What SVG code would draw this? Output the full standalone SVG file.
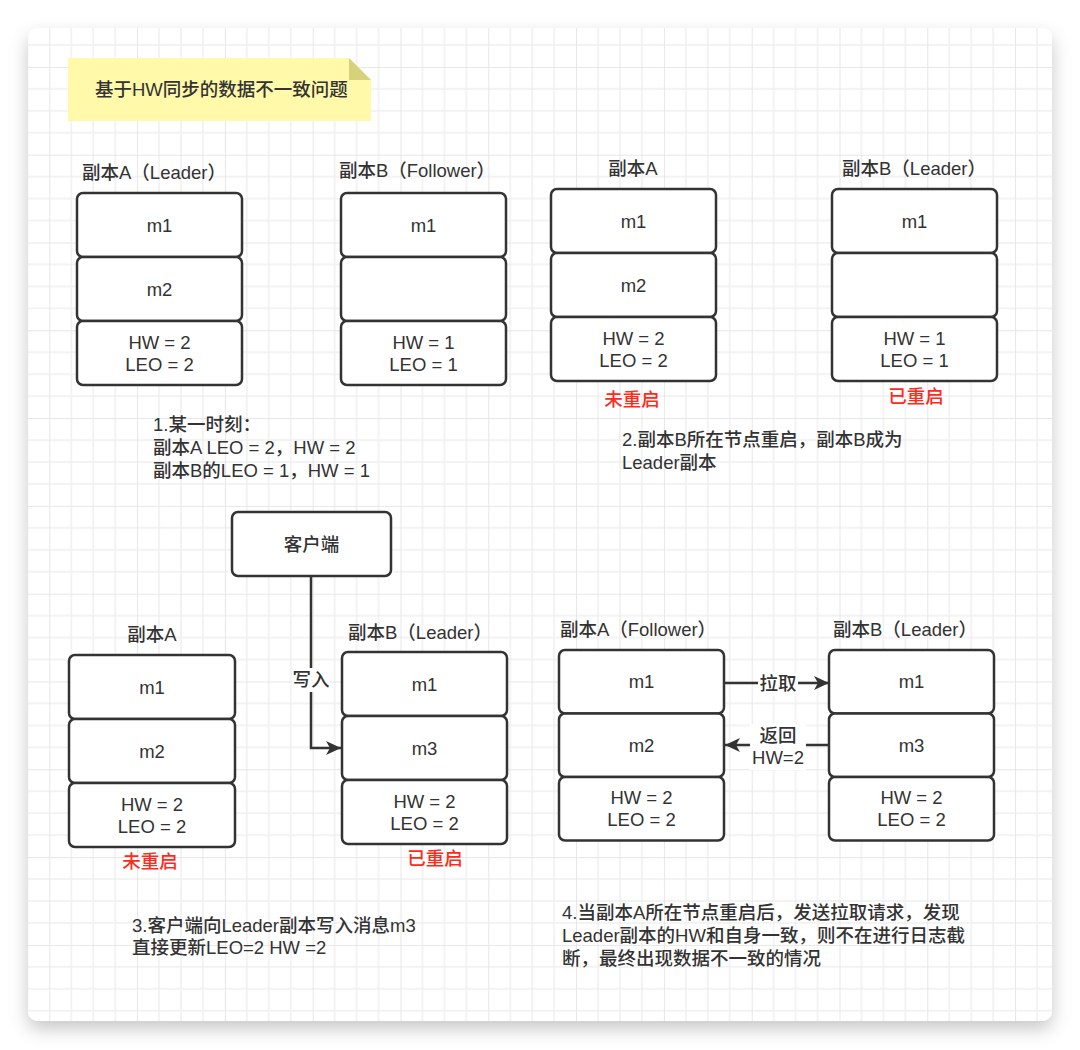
<svg xmlns="http://www.w3.org/2000/svg" width="1080" height="1050" viewBox="0 0 1080 1050">
<defs>
<style>
text{font-family:"Liberation Sans","Noto Sans CJK SC",sans-serif;font-size:18.5px;font-weight:500;fill:#333;}
.c{text-anchor:middle;}
.red{fill:#ff2a1a;}
.cell{fill:#fff;stroke:#333;stroke-width:2.5;}
.edge{fill:none;stroke:#333;stroke-width:2.5;}
.lbl{fill:#fff;}
.gmin{stroke:#f0f0f0;stroke-width:1.5;}
.gmaj{stroke:#e6e6e6;stroke-width:2;}
</style>
<pattern id="grid" patternUnits="userSpaceOnUse" x="49.3" y="66.9" width="87.8" height="87.8">
<path class="gmin" d="M21.95 0V87.8M43.9 0V87.8M65.85 0V87.8M0 21.95H87.8M0 43.9H87.8M0 65.85H87.8"/>
<path class="gmaj" d="M0 0V87.8M0 0H87.8"/>
</pattern>
<filter id="sh" x="-10%" y="-10%" width="120%" height="125%">
<feDropShadow dx="0" dy="8" stdDeviation="9" flood-color="#000" flood-opacity="0.22"/>
</filter>
<marker id="arr" markerUnits="userSpaceOnUse" markerWidth="16" markerHeight="14" refX="15" refY="7" orient="auto">
<path d="M0 0L15 7L0 14L4 7Z" fill="#333"/>
</marker>
</defs>

<rect width="1080" height="1050" fill="#fff"/>
<rect x="28" y="28" width="1024" height="993" rx="10" fill="#fff" filter="url(#sh)"/>
<rect x="28" y="28" width="1024" height="993" rx="10" fill="url(#grid)"/>

<g id="note">
<path d="M68 58H349L371 80V121H68Z" fill="#fff9a9"/>
<path d="M349 58L371 80H349Z" fill="#d6d27c"/>
<text x="95" y="96">基于HW同步的数据不一致问题</text>
</g>

<!-- step 1 -->
<g id="s1-replicaA">
<text class="c" x="154" y="179">副本A（Leader）</text>
<rect class="cell" x="77" y="193" width="165" height="64" rx="6"/>
<rect class="cell" x="77" y="257" width="165" height="64" rx="6"/>
<rect class="cell" x="77" y="321" width="165" height="64" rx="6"/>
<text class="c" x="159.5" y="231.5">m1</text>
<text class="c" x="159.5" y="295.5">m2</text>
<text class="c" x="159.5" y="348.5">HW = 2</text>
<text class="c" x="159.5" y="370.5">LEO = 2</text>
</g>
<g id="s1-replicaB">
<text class="c" x="417" y="177">副本B（Follower）</text>
<rect class="cell" x="341" y="193" width="165" height="64" rx="6"/>
<rect class="cell" x="341" y="257" width="165" height="64" rx="6"/>
<rect class="cell" x="341" y="321" width="165" height="64" rx="6"/>
<text class="c" x="423.5" y="231.5">m1</text>
<text class="c" x="423.5" y="348.5">HW = 1</text>
<text class="c" x="423.5" y="370.5">LEO = 1</text>
</g>
<g id="s1-desc">
<text x="153" y="431">1.某一时刻：</text>
<text x="153" y="454">副本A LEO = 2，HW = 2</text>
<text x="153" y="477">副本B的LEO = 1，HW = 1</text>
</g>

<!-- step 2 -->
<g id="s2-replicaA">
<text class="c" x="633" y="175">副本A</text>
<rect class="cell" x="551" y="189" width="165" height="64" rx="6"/>
<rect class="cell" x="551" y="253" width="165" height="64" rx="6"/>
<rect class="cell" x="551" y="317" width="165" height="64" rx="6"/>
<text class="c" x="633.5" y="227.5">m1</text>
<text class="c" x="633.5" y="291.5">m2</text>
<text class="c" x="633.5" y="344.5">HW = 2</text>
<text class="c" x="633.5" y="366.5">LEO = 2</text>
<text class="c red" x="632" y="406">未重启</text>
</g>
<g id="s2-replicaB">
<text class="c" x="914" y="175">副本B（Leader）</text>
<rect class="cell" x="832" y="189" width="165" height="64" rx="6"/>
<rect class="cell" x="832" y="253" width="165" height="64" rx="6"/>
<rect class="cell" x="832" y="317" width="165" height="64" rx="6"/>
<text class="c" x="914.5" y="227.5">m1</text>
<text class="c" x="914.5" y="344.5">HW = 1</text>
<text class="c" x="914.5" y="366.5">LEO = 1</text>
<text class="c red" x="916" y="403">已重启</text>
</g>
<g id="s2-desc">
<text x="622" y="446">2.副本B所在节点重启，副本B成为</text>
<text x="622" y="469">Leader副本</text>
</g>

<!-- step 3 -->
<g id="client">
<rect class="cell" x="232" y="512" width="159" height="64" rx="6"/>
<text class="c" x="311.5" y="551">客户端</text>
</g>
<g id="s3-replicaA">
<text class="c" x="152" y="641">副本A</text>
<rect class="cell" x="69" y="655" width="166" height="64" rx="6"/>
<rect class="cell" x="69" y="719" width="166" height="64" rx="6"/>
<rect class="cell" x="69" y="783" width="166" height="64" rx="6"/>
<text class="c" x="152" y="693.5">m1</text>
<text class="c" x="152" y="757.5">m2</text>
<text class="c" x="152" y="810.5">HW = 2</text>
<text class="c" x="152" y="832.5">LEO = 2</text>
<text class="c red" x="150" y="868">未重启</text>
</g>
<g id="s3-replicaB">
<text class="c" x="420" y="639">副本B（Leader）</text>
<rect class="cell" x="342" y="652" width="165" height="64" rx="6"/>
<rect class="cell" x="342" y="716" width="165" height="64" rx="6"/>
<rect class="cell" x="342" y="780" width="165" height="64" rx="6"/>
<text class="c" x="424.5" y="690.5">m1</text>
<text class="c" x="424.5" y="754.5">m3</text>
<text class="c" x="424.5" y="807.5">HW = 2</text>
<text class="c" x="424.5" y="829.5">LEO = 2</text>
<text class="c red" x="435" y="865">已重启</text>
</g>
<g id="s3-desc">
<text x="132" y="932">3.客户端向Leader副本写入消息m3</text>
<text x="132" y="954">直接更新LEO=2 HW =2</text>
</g>

<!-- step 4 -->
<g id="s4-replicaA">
<text class="c" x="638" y="636">副本A（Follower）</text>
<rect class="cell" x="559" y="650" width="165" height="63.5" rx="6"/>
<rect class="cell" x="559" y="713.5" width="165" height="63.5" rx="6"/>
<rect class="cell" x="559" y="777" width="165" height="63.5" rx="6"/>
<text class="c" x="641.5" y="688">m1</text>
<text class="c" x="641.5" y="751.5">m2</text>
<text class="c" x="641.5" y="804">HW = 2</text>
<text class="c" x="641.5" y="826">LEO = 2</text>
</g>
<g id="s4-replicaB">
<text class="c" x="905" y="636">副本B（Leader）</text>
<rect class="cell" x="829" y="650" width="165" height="63.5" rx="6"/>
<rect class="cell" x="829" y="713.5" width="165" height="63.5" rx="6"/>
<rect class="cell" x="829" y="777" width="165" height="63.5" rx="6"/>
<text class="c" x="911.5" y="688">m1</text>
<text class="c" x="911.5" y="751.5">m3</text>
<text class="c" x="911.5" y="804">HW = 2</text>
<text class="c" x="911.5" y="826">LEO = 2</text>
</g>
<g id="s4-desc">
<text x="562" y="919">4.当副本A所在节点重启后，发送拉取请求，发现</text>
<text x="562" y="942">Leader副本的HW和自身一致，则不在进行日志截</text>
<text x="562" y="965">断，最终出现数据不一致的情况</text>
</g>

<g id="connectors">
<path class="edge" d="M311 576V748H341" marker-end="url(#arr)"/>
<rect class="lbl" x="292" y="668" width="38" height="24"/>
<text class="c" x="311" y="686">写入</text>

<path class="edge" d="M724 683H829" marker-end="url(#arr)"/>
<rect class="lbl" x="758" y="672" width="40" height="24"/>
<text class="c" x="778" y="690">拉取</text>

<path class="edge" d="M829 745H725" marker-end="url(#arr)"/>
<rect class="lbl" x="750" y="724" width="56" height="46"/>
<text class="c" x="778" y="742">返回</text>
<text class="c" x="778" y="764">HW=2</text>
</g>
</svg>
